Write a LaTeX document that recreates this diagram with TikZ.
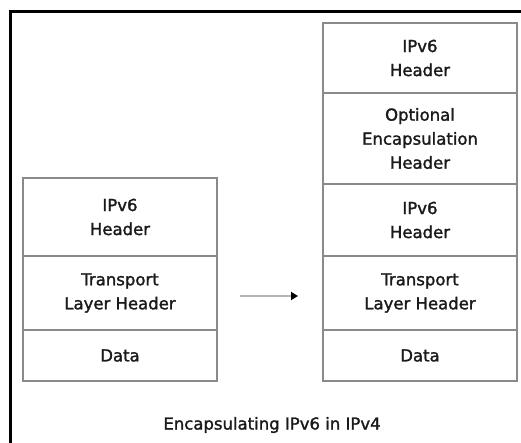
\documentclass[tikz,border=0pt]{standalone}
\usepackage{fontspec}
\setmainfont[FakeBold=1.6]{DejaVu Sans}
\usepackage{xcolor}
\usepackage{tikz}
\usetikzlibrary{arrows.meta,positioning}
\definecolor{BoxGray}{HTML}{8A8A8A}
\definecolor{ArrowGray}{HTML}{B4B4B4}
\definecolor{TextGray}{HTML}{1A1A1A}

\begin{document}
\begin{tikzpicture}[x=1pt,y=-1pt,>=Latex,
    cell/.style={draw=BoxGray,line width=1.3pt,minimum width=194pt,inner sep=0pt,
      outer sep=0pt,align=center,text=TextGray,font=\fontsize{16.5}{24}\selectfont},
    caption/.style={text=TextGray,font=\fontsize{16.5}{24}\selectfont}]
  \useasboundingbox (0,0) rectangle (521,443);
  \draw[line width=2.6pt,black] (10.5,443) -- (10.5,11.5) -- (521,11.5);
  % plain IPv6 packet
  \node[cell,minimum height=78pt] (lip) at (120,217) {IPv6\\Header};
  \node[cell,minimum height=74pt,below=0pt of lip] (ltrans) {Transport\\Layer Header};
  \node[cell,minimum height=51pt,below=0pt of ltrans] (ldata) {Data};
  % encapsulated packet
  \node[cell,minimum height=70pt] (rip) at (420,58) {IPv6\\Header};
  \node[cell,minimum height=91pt,below=0pt of rip] (ropt) {Optional\\Encapsulation\\Header};
  \node[cell,minimum height=72pt,below=0pt of ropt] (rinner) {IPv6\\Header};
  \node[cell,minimum height=74pt,below=0pt of rinner] (rtrans) {Transport\\Layer Header};
  \node[cell,minimum height=51pt,below=0pt of rtrans] (rdata) {Data};
  \draw[ArrowGray,line width=2pt,-{Triangle[black,length=7pt,width=8pt]},
        shorten <=23pt,shorten >=25pt]
    ([yshift=-3pt]ltrans.east) -- ([yshift=-3pt]rtrans.west);
  \node[caption] (cap) at (272,425) {Encapsulating IPv6 in IPv4};
\end{tikzpicture}
\end{document}
